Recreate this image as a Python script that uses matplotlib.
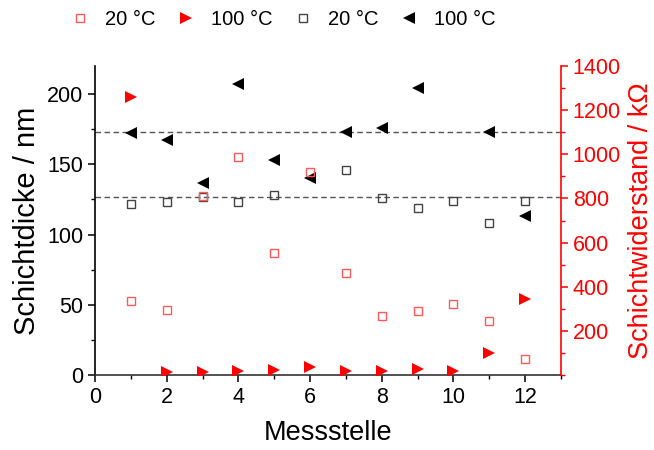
import matplotlib
matplotlib.use("Agg")
import matplotlib.pyplot as plt
from matplotlib.ticker import MultipleLocator, FixedLocator

plt.rcParams['font.family'] = ['Liberation Sans', 'DejaVu Sans']

# Messstellen
stellen = list(range(1, 13))

# Schichtwiderstand / kOhm (rechte Achse)
r_20 = [337, 295, 811, 989, 554, 921, 461, 267, 291, 322, 246, 71]
r_100 = [1261, 12, 14, 18, 23, 36, 18, 20, 26, 18, 101, 346]

# Schichtdicke / nm (linke Achse)
d_20_x = [1, 2, 3, 4, 5, 7, 8, 9, 10, 11, 12]
d_20 = [122, 123, 127, 123, 128, 146, 126, 119, 124, 108, 124]
d_100_x = [1, 2, 3, 4, 5, 6, 7, 8, 9, 11, 12]
d_100 = [172, 167, 137, 207, 153, 140, 173, 176, 204, 173, 113]

# Mittelwerte der Schichtdicke
mittel = [173.2, 127.0]

fig = plt.figure(figsize=(6.54, 4.50), dpi=100)
ax = fig.add_axes([95 / 654, 1 - 375 / 450, (561 - 95) / 654, (375 - 66) / 450])
ax2 = ax.twinx()

for m in mittel:
    ax.axhline(m, color='#555555', linestyle=(0, (4, 2.5)), linewidth=1.0, zorder=1)

h_d20, = ax.plot(d_20_x, d_20, linestyle='none', marker='s', markersize=6,
                 markerfacecolor='none', markeredgecolor='#444444',
                 markeredgewidth=1.0, label='20 °C', zorder=3)
h_d100, = ax.plot(d_100_x, d_100, linestyle='none', marker='<', markersize=8,
                  color='black', markeredgewidth=0, label='100 °C', zorder=3)

h_r20, = ax2.plot(stellen, r_20, linestyle='none', marker='s', markersize=6,
                  markerfacecolor='none', markeredgecolor='#ff5a5a',
                  markeredgewidth=1.0, label='20 °C', zorder=3)
h_r100, = ax2.plot(stellen, r_100, linestyle='none', marker='>', markersize=8,
                   color='#ff0000', markeredgewidth=0, label='100 °C', zorder=3)

ax.set_xlim(0, 13)
ax.set_ylim(0, 220)
ax2.set_ylim(0, 1400)

ax.xaxis.set_major_locator(MultipleLocator(2))
ax.xaxis.set_minor_locator(MultipleLocator(1))
ax.yaxis.set_major_locator(MultipleLocator(50))
ax.yaxis.set_minor_locator(MultipleLocator(25))
ax2.yaxis.set_major_locator(FixedLocator([200, 400, 600, 800, 1000, 1200, 1400]))
ax2.yaxis.set_minor_locator(MultipleLocator(100))

for a in (ax, ax2):
    a.spines['top'].set_visible(False)
ax.spines['right'].set_visible(False)
ax2.spines['left'].set_visible(False)
ax2.spines['bottom'].set_visible(False)
ax2.spines['right'].set_color('#ff0000')
ax.spines['left'].set_linewidth(1.2)
ax.spines['bottom'].set_linewidth(1.2)
ax.spines['bottom'].set_color('#333333')
ax2.spines['right'].set_linewidth(1.2)

ax.tick_params(axis='both', which='major', direction='out', length=5, width=1.1,
               labelsize=15.5, colors='black')
ax.tick_params(axis='both', which='minor', direction='out', length=3, width=1.0)
ax2.tick_params(axis='y', which='major', direction='out', length=5, width=1.1,
                labelsize=15.5, colors='#ff0000')
ax2.tick_params(axis='y', which='minor', direction='out', length=3, width=1.0,
                colors='#ff0000')

ax.set_xlabel('Messstelle', fontsize=19.5, labelpad=9)
ax.set_ylabel('Schichtdicke / nm', fontsize=21, labelpad=4)
ax2.set_ylabel('Schichtwiderstand / kΩ', fontsize=19.5, color='#ff0000', labelpad=5)

fig.legend([h_r20, h_r100, h_d20, h_d100],
           ['20 °C', '100 °C', '20 °C', '100 °C'],
           loc='upper left', bbox_to_anchor=(52 / 654, 1.0 + 8 / 450), ncol=4,
           frameon=False, fontsize=14.5,
           handlelength=1.0, handletextpad=0.75, columnspacing=1.0)

fig.savefig('out.png', dpi=100)
